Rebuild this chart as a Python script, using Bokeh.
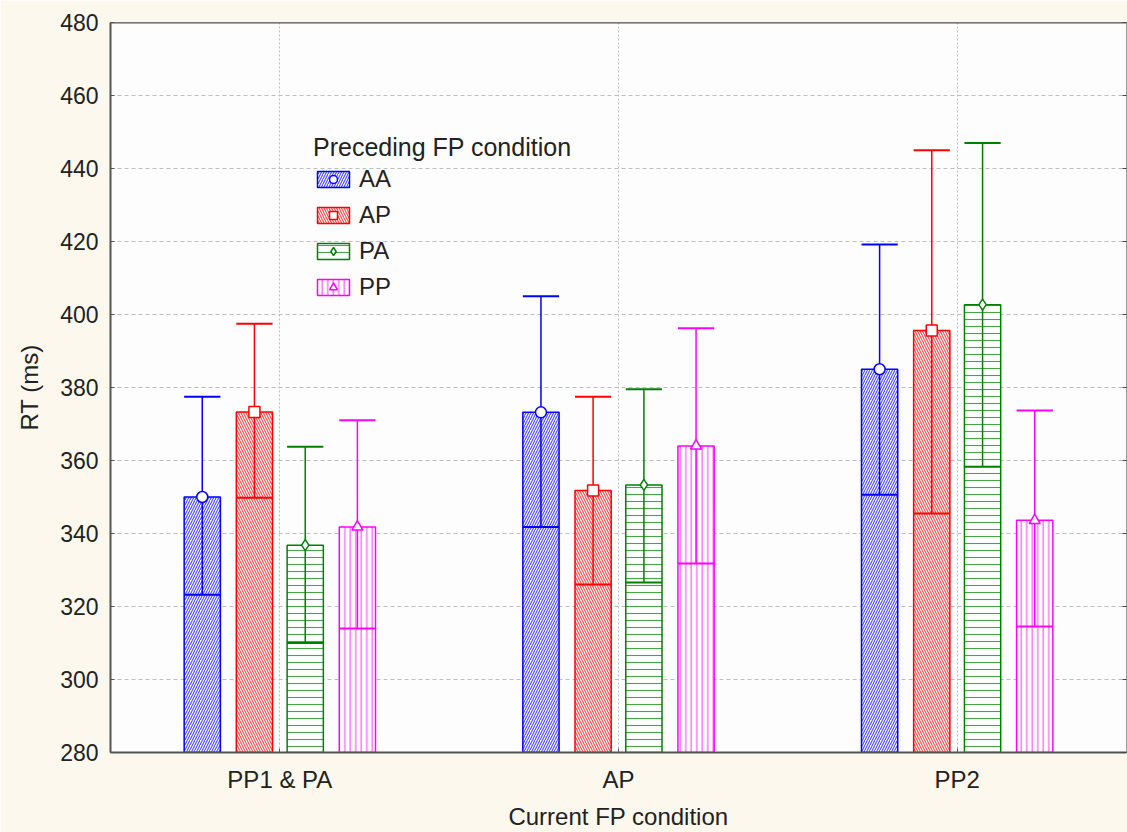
from bokeh.plotting import figure
from bokeh.models import (FactorRange, ColumnDataSource, Legend, LegendItem,
                          LinearAxis, Span, CustomJSTickFormatter, FixedTicker)
from bokeh.transform import dodge
from bokeh.embed import file_html
from bokeh.resources import INLINE

# ---------------- data ----------------
categories = ["PP1 & PA", "AP", "PP2"]
series = ["AA", "AP", "PA", "PP"]

mean_AA = [350.0, 373.2, 385.0]
low_AA = [323.2, 341.8, 350.6]
up_AA = [377.5, 405.0, 419.2]

mean_AP = [373.3, 351.8, 395.6]
low_AP = [349.8, 326.0, 345.5]
up_AP = [397.5, 377.5, 445.0]

mean_PA = [336.8, 353.3, 402.7]
low_PA = [310.0, 326.6, 358.3]
up_PA = [363.8, 379.5, 447.0]

mean_PP = [341.8, 364.0, 343.6]
low_PP = [314.0, 331.8, 314.5]
up_PP = [371.0, 396.2, 373.7]

y_ticks = [280, 300, 320, 340, 360, 380, 400, 420, 440, 460, 480]

# ---------------- styles ----------------
colors = {"AA": "#0000ff", "AP": "#ff0000", "PA": "#008000", "PP": "#ff00ff"}
hatches = {"AA": "right_diagonal_line", "AP": "left_diagonal_line",
           "PA": "horizontal_line", "PP": "vertical_line"}
hatch_scales = {"AA": 5, "AP": 5, "PA": 7, "PP": 5.5}
markers = {"AA": "circle", "AP": "square", "PA": "diamond", "PP": "triangle"}
offsets = {"AA": -0.229, "AP": -0.075, "PA": 0.075, "PP": 0.229}
bar_w = 0.107
FONT = "Liberation Sans"
TXT = "#222222"

data = {
    "AA": (mean_AA, low_AA, up_AA),
    "AP": (mean_AP, low_AP, up_AP),
    "PA": (mean_PA, low_PA, up_PA),
    "PP": (mean_PP, low_PP, up_PP),
}

p = figure(x_range=FactorRange(*categories), y_range=(280, 480),
           width=1127, height=832, output_backend="svg", toolbar_location=None,
           background_fill_color="#fdfdfd", border_fill_color="#fcf8ed",
           min_border_left=110, min_border_top=22, min_border_bottom=80,
           min_border_right=1)

p.outline_line_color = "#9a9a9a"
p.outline_line_width = 1

items = []
for s in series:
    m, lo, up = data[s]
    src = ColumnDataSource(dict(cat=categories, mean=m, low=lo, up=up))
    c = colors[s]
    off = offsets[s]
    bar = p.vbar(x=dodge("cat", off, range=p.x_range), top="mean", bottom=280,
                 width=bar_w, source=src, fill_color="white", line_color=c,
                 line_width=1.5, hatch_pattern=hatches[s], hatch_color=c,
                 hatch_scale=hatch_scales[s], hatch_weight=1.1, hatch_alpha=0.72)
    p.segment(x0=dodge("cat", off, range=p.x_range), y0="low",
              x1=dodge("cat", off, range=p.x_range), y1="up",
              source=src, line_color=c, line_width=1.5)
    for col in ("low", "up"):
        p.segment(x0=dodge("cat", off - bar_w / 2, range=p.x_range), y0=col,
                  x1=dodge("cat", off + bar_w / 2, range=p.x_range), y1=col,
                  source=src, line_color=c, line_width=2)
    mk = p.scatter(x=dodge("cat", off, range=p.x_range), y="mean", source=src,
                   marker=markers[s], size=11, fill_color="white",
                   line_color=c, line_width=1.5)
    items.append(LegendItem(label=s, renderers=[bar, mk]))

legend = Legend(items=items, location=(203, 451), title="Preceding FP condition",
                title_text_font_size="25px", title_text_font=FONT,
                title_text_font_style="normal", title_text_color=TXT,
                title_standoff=3,
                label_text_font_size="24px", label_text_font=FONT,
                label_text_color=TXT, glyph_width=40, glyph_height=20,
                label_height=26, spacing=8, label_standoff=6, padding=0,
                margin=0, border_line_color=None, background_fill_alpha=0)
p.add_layout(legend)

# axes
p.yaxis.ticker = FixedTicker(ticks=y_ticks)
for ax in (p.xaxis[0], p.yaxis[0]):
    ax.major_tick_in = 4
    ax.major_tick_out = 0
    ax.minor_tick_line_color = None
    ax.axis_line_color = "#555555"
    ax.axis_line_width = 2
    ax.major_tick_line_color = "#555555"
    ax.major_label_text_font = FONT
    ax.major_label_text_font_size = "23px"
    ax.major_label_text_color = TXT
    ax.axis_label_text_font = FONT
    ax.axis_label_text_font_size = "24px"
    ax.axis_label_text_font_style = "normal"
    ax.axis_label_text_color = TXT

p.xaxis.axis_label = "Current FP condition"
p.xaxis.major_label_text_font_size = "24px"
p.xaxis.major_label_standoff = 13
p.xaxis.axis_label_standoff = 7
p.yaxis.axis_label = "RT (ms)"
p.yaxis.major_label_standoff = 12
p.yaxis.axis_label_standoff = 14

right = LinearAxis(ticker=FixedTicker(ticks=y_ticks),
                   formatter=CustomJSTickFormatter(code="return ''"),
                   major_tick_in=4, major_tick_out=0,
                   minor_tick_line_color=None, axis_line_color="#9a9a9a",
                   major_tick_line_color="#444444", major_label_standoff=0,
                   major_label_text_font_size="1px")
p.add_layout(right, "right")

p.add_layout(Span(location=480, dimension="width", line_color="#555555",
                  line_width=2))

p.ygrid.ticker = FixedTicker(ticks=y_ticks)
p.ygrid.grid_line_color = "#bdbdbd"
p.ygrid.grid_line_dash = "4 3"
p.xgrid.grid_line_color = "#bdbdbd"
p.xgrid.grid_line_dash = "2 2"

open("out.html", "w").write(file_html(p, INLINE))
